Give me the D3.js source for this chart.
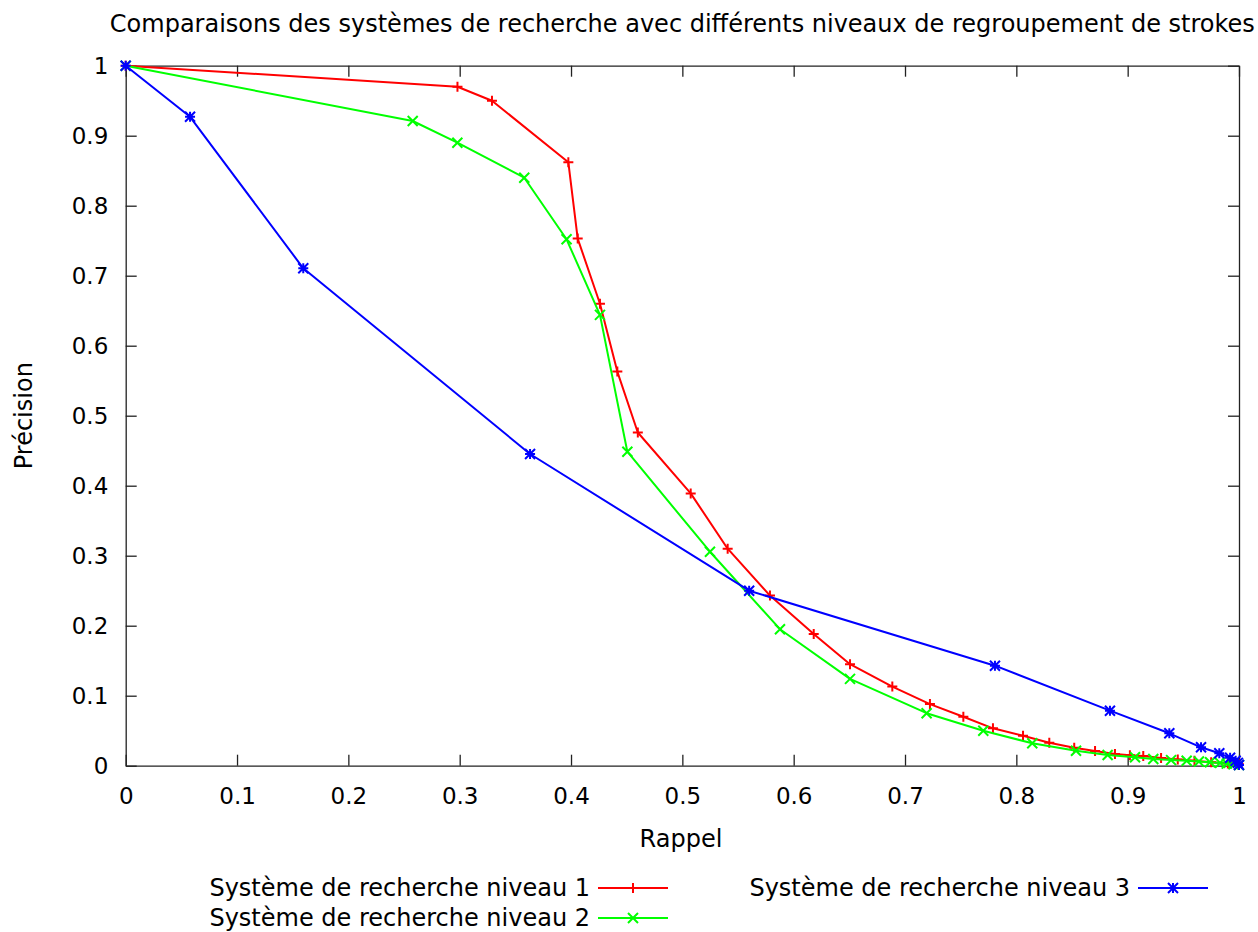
<!DOCTYPE html>
<html><head><meta charset="utf-8">
<script src="https://cdn.jsdelivr.net/npm/d3@7"></script>
<style>body{margin:0;background:#fff}svg{display:block}text{font-family:"DejaVu Sans",Verdana,sans-serif;fill:#000}</style>
</head><body><svg id="c" width="1258" height="932"></svg>
<script>
const titleText = "Comparaisons des systèmes de recherche avec différents niveaux de regroupement de strokes";
const xLabel = "Rappel";
const yLabel = "Précision";
const seriesNames = ["Système de recherche niveau 1","Système de recherche niveau 2","Système de recherche niveau 3"];
const seriesColors = ["#ff0000","#00ff00","#0000ff"];
const tickValues = [0,0.1,0.2,0.3,0.4,0.5,0.6,0.7,0.8,0.9,1];
const tickLabels = ["0","0.1","0.2","0.3","0.4","0.5","0.6","0.7","0.8","0.9","1"];

const rappel1 = [0,0.298,0.329,0.3976,0.406,0.426,0.4416,0.460,0.5075,0.5407,0.5787,0.618,0.6506,0.6886,0.7224,0.7524,0.779,0.806,0.8296,0.852,0.8707,0.8886,0.902,0.914,0.93,0.945,0.96,0.975,0.99,1.0];
const precision1 = [1,0.970,0.950,0.862,0.753,0.660,0.563,0.476,0.389,0.310,0.243,0.188,0.145,0.113,0.088,0.070,0.0534,0.0429,0.0329,0.0257,0.021,0.0167,0.0148,0.0138,0.011,0.009,0.007,0.005,0.003,0.002];
const rappel2 = [0,0.2578,0.2979,0.358,0.396,0.426,0.4506,0.5248,0.5877,0.6506,0.7194,0.7703,0.8143,0.8536,0.882,0.9066,0.923,0.939,0.953,0.964,0.974,0.983,0.989,0.995,1.0];
const precision2 = [1,0.921,0.890,0.840,0.752,0.644,0.4486,0.3057,0.195,0.124,0.075,0.050,0.032,0.0214,0.0153,0.012,0.0096,0.008,0.007,0.006,0.005,0.004,0.003,0.002,0.001];
const rappel3 = [0,0.0578,0.1595,0.3632,0.560,0.7808,0.8841,0.9374,0.9659,0.9823,0.992,0.997,0.999,1.0];
const precision3 = [1,0.927,0.7106,0.4453,0.250,0.1429,0.0786,0.0463,0.0263,0.0177,0.0114,0.007,0.004,0.001];

const series = [
  {name: seriesNames[0], color: seriesColors[0], marker: "plus", xs: rappel1, ys: precision1},
  {name: seriesNames[1], color: seriesColors[1], marker: "cross", xs: rappel2, ys: precision2},
  {name: seriesNames[2], color: seriesColors[2], marker: "star", xs: rappel3, ys: precision3}
];

const svg = d3.select("#c");
svg.append("rect").attr("width",1258).attr("height",932).attr("fill","#fff");
const L = 125.7, R = 1239, T = 65.7, B = 765.7;
const x = d3.scaleLinear().domain([0,1]).range([L,R]);
const y = d3.scaleLinear().domain([0,1]).range([B,T]);
const FT = 23;   // tick labels
const FS = 24;   // other texts
const fmt = d => tickLabels[tickValues.indexOf(d)];

function styleAxis(g){
  g.selectAll("path.domain").attr("stroke","#222").attr("stroke-width",1.3).attr("fill","none");
  g.selectAll(".tick line").attr("stroke","#222").attr("stroke-width",1.3);
  g.selectAll("text").style("font-size",FT+"px").attr("fill","#000");
}
const gb = svg.append("g").attr("transform",`translate(0,${B})`)
  .call(d3.axisBottom(x).tickValues(tickValues).tickFormat(fmt).tickSizeInner(-11).tickSizeOuter(0).tickPadding(22));
styleAxis(gb);
const gt = svg.append("g").attr("transform",`translate(0,${T})`)
  .call(d3.axisTop(x).tickValues(tickValues).tickFormat("").tickSizeInner(-11).tickSizeOuter(0));
styleAxis(gt);
const gl = svg.append("g").attr("transform",`translate(${L},0)`)
  .call(d3.axisLeft(y).tickValues(tickValues).tickFormat(fmt).tickSizeInner(-11).tickSizeOuter(0).tickPadding(17.4));
styleAxis(gl);
const gr = svg.append("g").attr("transform",`translate(${R},0)`)
  .call(d3.axisRight(y).tickValues(tickValues).tickFormat("").tickSizeInner(-11).tickSizeOuter(0));
styleAxis(gr);

svg.append("text").attr("x",(L+R)/2).attr("y",32).attr("text-anchor","middle").style("font-size",FS+"px").text(titleText);
svg.append("text").attr("x",681).attr("y",847).attr("text-anchor","middle").style("font-size",FS+"px").text(xLabel);
svg.append("text").attr("transform",`translate(31.5,${(T+B)/2}) rotate(-90)`).attr("text-anchor","middle").style("font-size",FS+"px").text(yLabel);

function markerPath(type, cx, cy){
  const s = 5;
  const p = d3.path();
  if(type==="plus"||type==="star"){ p.moveTo(cx-s,cy); p.lineTo(cx+s,cy); p.moveTo(cx,cy-s); p.lineTo(cx,cy+s); }
  if(type==="cross"||type==="star"){ p.moveTo(cx-s,cy-s); p.lineTo(cx+s,cy+s); p.moveTo(cx-s,cy+s); p.lineTo(cx+s,cy-s); }
  return p.toString();
}

const line = d3.line().x(d=>x(d[0])).y(d=>y(d[1]));
const plot = svg.append("g");
series.forEach(s=>{
  const pts = s.xs.map((v,i)=>[v,s.ys[i]]);
  plot.append("path").datum(pts).attr("d",line).attr("fill","none").attr("stroke",s.color).attr("stroke-width",2).attr("stroke-linejoin","round");
  plot.append("g").selectAll("path").data(pts).join("path")
    .attr("d",d=>markerPath(s.marker,x(d[0]),y(d[1]))).attr("stroke",s.color).attr("stroke-width",2).attr("fill","none");
});

// legend
const legendPos = [{tx:590, ty:888}, {tx:590, ty:918}, {tx:1130, ty:888}];
series.forEach((s,i)=>{
  const p = legendPos[i];
  svg.append("text").attr("x",p.tx).attr("y",p.ty).attr("dy","0.35em").attr("text-anchor","end").style("font-size",FS+"px").text(s.name);
  svg.append("line").attr("x1",p.tx+8).attr("x2",p.tx+78).attr("y1",p.ty).attr("y2",p.ty).attr("stroke",s.color).attr("stroke-width",2);
  svg.append("path").attr("d",markerPath(s.marker,p.tx+43,p.ty)).attr("stroke",s.color).attr("stroke-width",2).attr("fill","none");
});
</script></body></html>
